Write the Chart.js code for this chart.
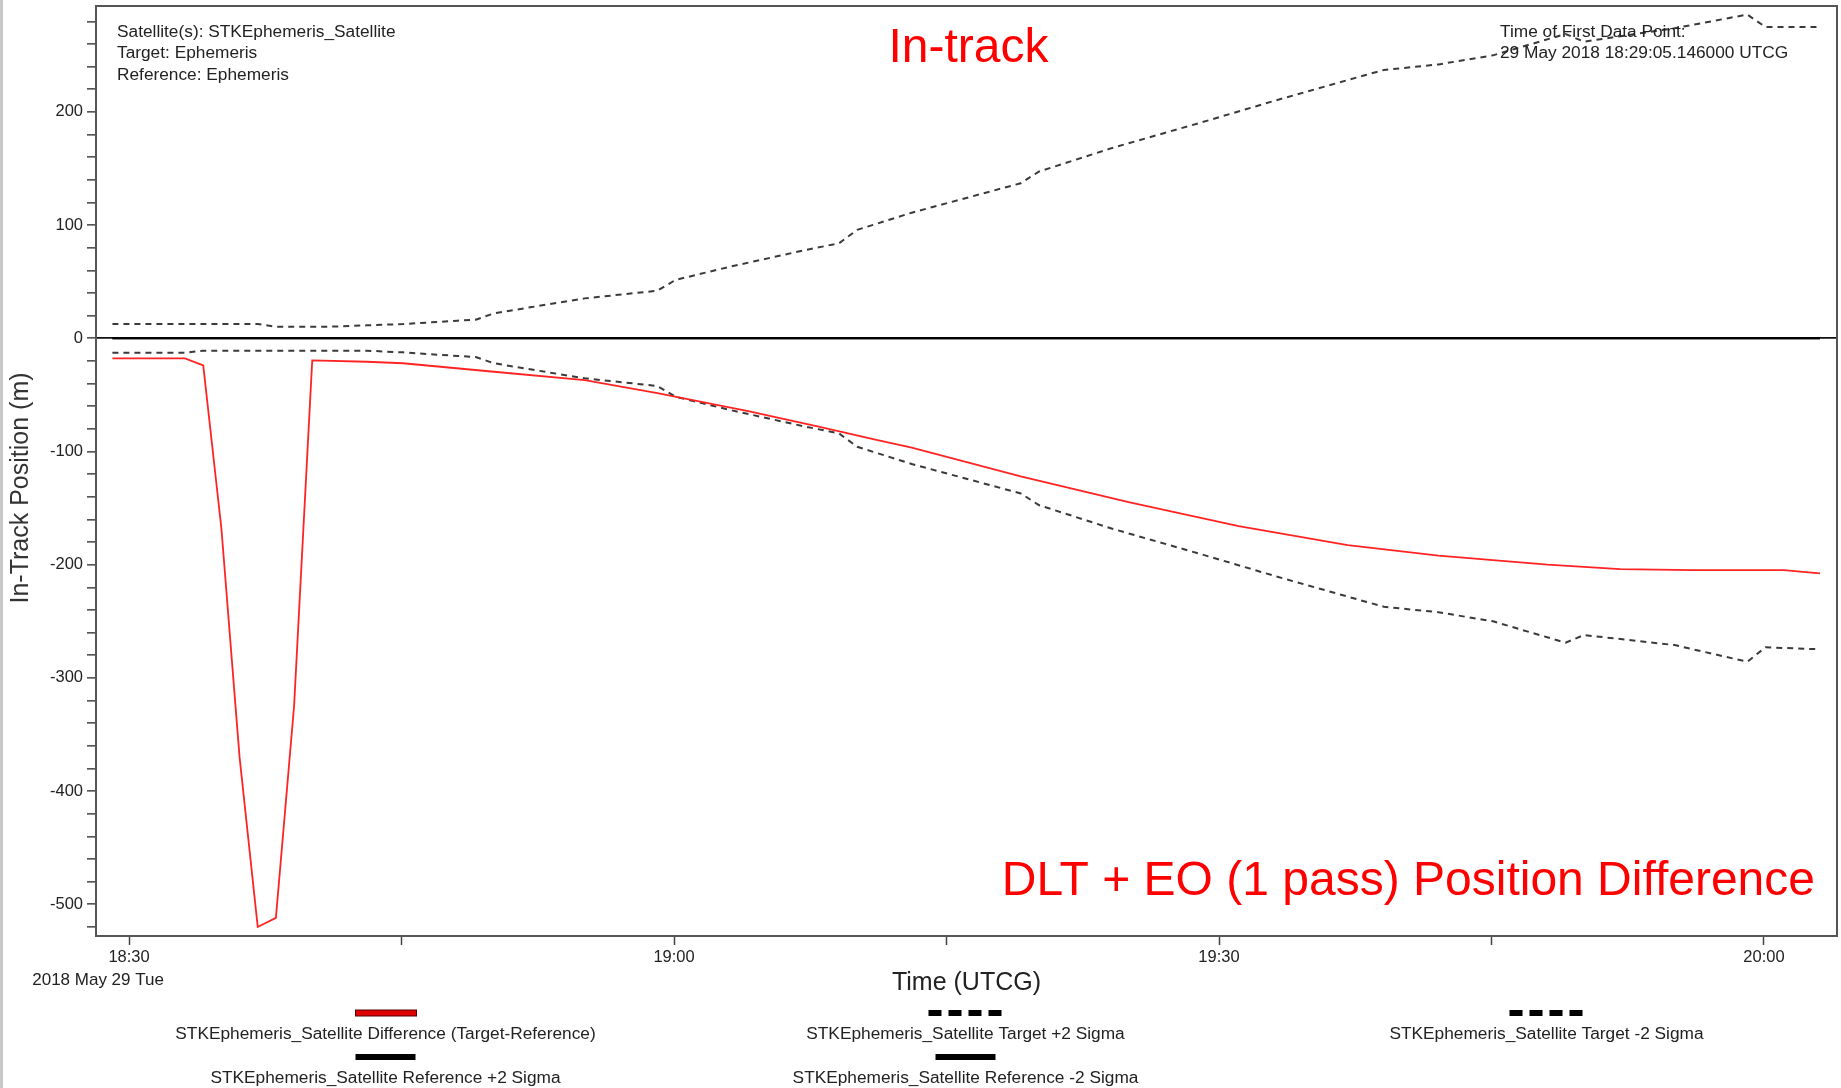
<!DOCTYPE html>
<html>
<head>
<meta charset="utf-8">
<title>In-track Position Difference</title>
<script src="https://cdn.jsdelivr.net/npm/chart.js@4.4.1/dist/chart.umd.min.js"></script>
<style>
  html, body { margin: 0; padding: 0; background: #fff; }
  #wrap { position: relative; width: 1841px; height: 1088px; }
</style>
</head>
<body>
<div id="wrap"><canvas id="chart"></canvas></div>
<script>
// Difference (Target-Reference), in-track, metres
const diffTimes = ['18:29:05', '18:33:05', '18:34:05', '18:35:05', '18:36:05', '18:37:05', '18:38:05',
  '18:39:05', '18:40:05', '18:43:05', '18:45:05', '18:50:05', '18:55:05', '18:59:05', '19:04:05',
  '19:08:05', '19:11:05', '19:13:05', '19:19:05', '19:25:05', '19:31:05', '19:37:05', '19:42:05',
  '19:48:05', '19:52:05', '19:56:05', '20:01:05', '20:03:05'];
const diffValues = [-17.7, -17.7, -24, -168, -370, -520, -512,
  -325, -19.5, -20.7, -22, -29.5, -37, -48.5, -64.3,
  -78.5, -89.5, -96.5, -122, -145, -165.8, -182.6, -192,
  -200, -203.8, -204.7, -204.7, -207.6];

// Target +/- 2 sigma envelope
const sigmaTimes = ['18:29:05', '18:33:05', '18:34:05', '18:37:05', '18:38:05', '18:41:05', '18:43:05',
  '18:45:05', '18:48:05', '18:49:05', '18:50:05', '18:52:05', '18:55:05', '18:59:05', '19:00:05',
  '19:03:05', '19:07:05', '19:09:05', '19:10:05', '19:13:05', '19:19:05', '19:20:05', '19:24:05',
  '19:29:05', '19:33:05', '19:38:05', '19:39:05', '19:42:05', '19:45:05', '19:49:05', '19:50:05',
  '19:55:05', '19:59:05', '20:00:05', '20:03:05'];
const targetPlus = [12.6, 12.6, 12.6, 12.6, 10.3, 10.3, 11.5,
  12.6, 15.6, 16.5, 22, 27.4, 35.3, 42.1, 51.6,
  63.3, 77.5, 84, 95.8, 111, 137, 147.3, 168,
  191, 210, 232.7, 237.1, 242, 250, 268.9, 262.1,
  274, 286, 275, 275];
const targetMinus = [-12.7, -12.7, -10.9, -10.9, -10.9, -10.9, -10.9,
  -12.4, -15.6, -16.5, -22, -27.4, -35.3, -42.1, -51.6,
  -63.3, -77.5, -84, -95.8, -111, -137, -147.3, -168,
  -191, -210, -232.7, -237.1, -242, -250, -268.9, -262.1,
  -271, -285.7, -273, -274.7];

// Reference +/- 2 sigma (reference ephemeris has no covariance)
const refTimes = ['18:29:05', '20:03:05'];
const refPlus = [0, 0];
const refMinus = [0, 0];

const seriesLabels = [
  'STKEphemeris_Satellite Difference (Target-Reference)',
  'STKEphemeris_Satellite Target +2 Sigma',
  'STKEphemeris_Satellite Target -2 Sigma',
  'STKEphemeris_Satellite Reference +2 Sigma',
  'STKEphemeris_Satellite Reference -2 Sigma'
];

const infoLeft = ['Satellite(s): STKEphemeris_Satellite', 'Target: Ephemeris', 'Reference: Ephemeris'];
const infoRight = ['Time of First Data Point:', '29 May 2018 18:29:05.146000 UTCG'];

const FONT = "'Liberation Sans', Arial, sans-serif";

// minutes after 18:00
const toMin = s => {
  const [h, m, sec] = s.split(':').map(Number);
  return h * 60 + m + sec / 60 - 1080;
};
const points = (times, values) => times.map((t, i) => ({ x: toMin(t), y: values[i] }));

const fmtTime = v => {
  const total = 1080 + v;
  const hh = Math.floor(total / 60);
  const mm = Math.round(total % 60);
  return hh + ':' + String(mm).padStart(2, '0');
};

const dashed = [6, 5];

// draws the texts, frame and the STK style legend
const overlay = {
  id: 'overlay',
  afterDraw(chart) {
    const { ctx, chartArea: a, scales: { x } } = chart;
    ctx.save();

    ctx.fillStyle = '#c8c8c8';
    ctx.fillRect(0, 0, 3, chart.height);

    ctx.strokeStyle = '#555';
    ctx.lineWidth = 2;
    ctx.strokeRect(a.left, a.top, a.right - a.left, a.bottom - a.top);

    ctx.fillStyle = '#222';
    ctx.textBaseline = 'middle';
    ctx.font = '17.3px ' + FONT;
    ctx.textAlign = 'left';
    infoLeft.forEach((line, i) => ctx.fillText(line, a.left + 21, a.top + 26 + i * 21.7));
    infoRight.forEach((line, i) => ctx.fillText(line, a.right - 337, a.top + 26 + i * 21.7));

    // date under the first time tick
    ctx.textAlign = 'center';
    ctx.font = '17px ' + FONT;
    ctx.fillText('2018 May 29 Tue', x.getPixelForValue(30) - 31, a.bottom + 44);

    // y axis title
    ctx.save();
    ctx.translate(21, 488);
    ctx.rotate(-Math.PI / 2);
    ctx.font = '25px ' + FONT;
    ctx.fillStyle = '#333';
    ctx.fillText('In-Track Position (m)', 0, 0);
    ctx.restore();

    // red titles
    ctx.fillStyle = '#ff0000';
    ctx.font = '48px ' + FONT;
    ctx.textAlign = 'center';
    ctx.fillText('In-track', (a.left + a.right) / 2 + 2, a.top + 43);
    ctx.textAlign = 'right';
    ctx.fillText('DLT + EO (1 pass) Position Difference', a.right - 22, a.bottom - 54);

    // legend: 3 columns, symbol above text
    const cx = (a.left + a.right) / 2;
    const colX = [cx - 581, cx - 1, cx + 580];
    chart.data.datasets.forEach((ds, i) => {
      const col = i % 3;
      const row = Math.floor(i / 3);
      const lx = colX[col];
      const sy = a.bottom + 77 + row * 44;
      const ty = a.bottom + 98 + row * 44;
      if (ds.legendStyle === 'bar') {
        ctx.fillStyle = '#e00000';
        ctx.fillRect(lx - 30, sy - 3, 61, 6);
        ctx.strokeStyle = '#500';
        ctx.lineWidth = 1;
        ctx.strokeRect(lx - 30, sy - 3, 61, 6);
      } else if (ds.legendStyle === 'dash') {
        ctx.fillStyle = '#000';
        for (let k = 0; k < 4; k++) ctx.fillRect(lx - 37 + k * 20, sy - 3, 13, 6);
      } else {
        ctx.fillStyle = '#000';
        ctx.fillRect(lx - 30, sy - 3, 60, 6);
      }
      ctx.fillStyle = '#222';
      ctx.font = '17.3px ' + FONT;
      ctx.textAlign = 'center';
      ctx.fillText(ds.label, lx, ty);
    });

    ctx.restore();
  }
};

const ctx = document.getElementById('chart').getContext('2d');
new Chart(ctx, {
  type: 'line',
  data: {
    datasets: [
      {
        label: seriesLabels[0],
        data: points(diffTimes, diffValues),
        borderColor: 'rgb(255, 35, 35)',
        borderWidth: 1.8,
        legendStyle: 'bar',
        order: 0
      },
      {
        label: seriesLabels[1],
        data: points(sigmaTimes, targetPlus),
        borderColor: '#3a3a3a',
        borderWidth: 2,
        borderDash: dashed,
        legendStyle: 'dash',
        order: 1
      },
      {
        label: seriesLabels[2],
        data: points(sigmaTimes, targetMinus),
        borderColor: '#3a3a3a',
        borderWidth: 2,
        borderDash: dashed,
        legendStyle: 'dash',
        order: 1
      },
      {
        label: seriesLabels[3],
        data: points(refTimes, refPlus),
        borderColor: '#000',
        borderWidth: 1.6,
        legendStyle: 'solid',
        order: 2
      },
      {
        label: seriesLabels[4],
        data: points(refTimes, refMinus),
        borderColor: '#000',
        borderWidth: 1.6,
        legendStyle: 'solid',
        order: 2
      }
    ]
  },
  options: {
    responsive: true,
    maintainAspectRatio: false,
    animation: false,
    events: [],
    layout: { padding: { left: 0, top: 6, right: 4, bottom: 90 } },
    elements: { point: { radius: 0 }, line: { tension: 0 } },
    plugins: {
      legend: { display: false },
      tooltip: { enabled: false }
    },
    scales: {
      x: {
        type: 'linear',
        min: 28.18,
        max: 124.02,
        border: { display: false },
        grid: { drawOnChartArea: false, tickLength: 9, tickColor: '#444', tickWidth: 1.5 },
        ticks: {
          stepSize: 15,
          autoSkip: false,
          maxRotation: 0,
          includeBounds: false,
          padding: 3,
          color: '#222',
          font: { family: FONT, size: 16.5 },
          callback: v => (v % 30 === 0 ? fmtTime(v) : '')
        },
        title: {
          display: true,
          text: 'Time (UTCG)',
          color: '#222',
          font: { family: FONT, size: 25 },
          padding: 0
        },
        afterFit: s => { s.height = 62; s.paddingLeft = 0; s.paddingRight = 0; }
      },
      y: {
        min: -528,
        max: 293.6,
        border: { display: false },
        grid: {
          drawOnChartArea: true,
          color: c => (c.tick && c.tick.value === 0 ? '#111' : 'rgba(0,0,0,0)'),
          lineWidth: 1.7,
          tickLength: 9,
          tickColor: '#444',
          tickWidth: 1.5
        },
        ticks: {
          stepSize: 20,
          includeBounds: false,
          autoSkip: false,
          padding: 4,
          color: '#222',
          font: { family: FONT, size: 16.5 },
          callback: v => (Math.abs(v % 100) < 1e-6 ? String(v) : '')
        },
        afterFit: s => { s.width = 96; s.paddingTop = 0; s.paddingBottom = 0; }
      }
    }
  },
  plugins: [overlay]
});
</script>
</body>
</html>
